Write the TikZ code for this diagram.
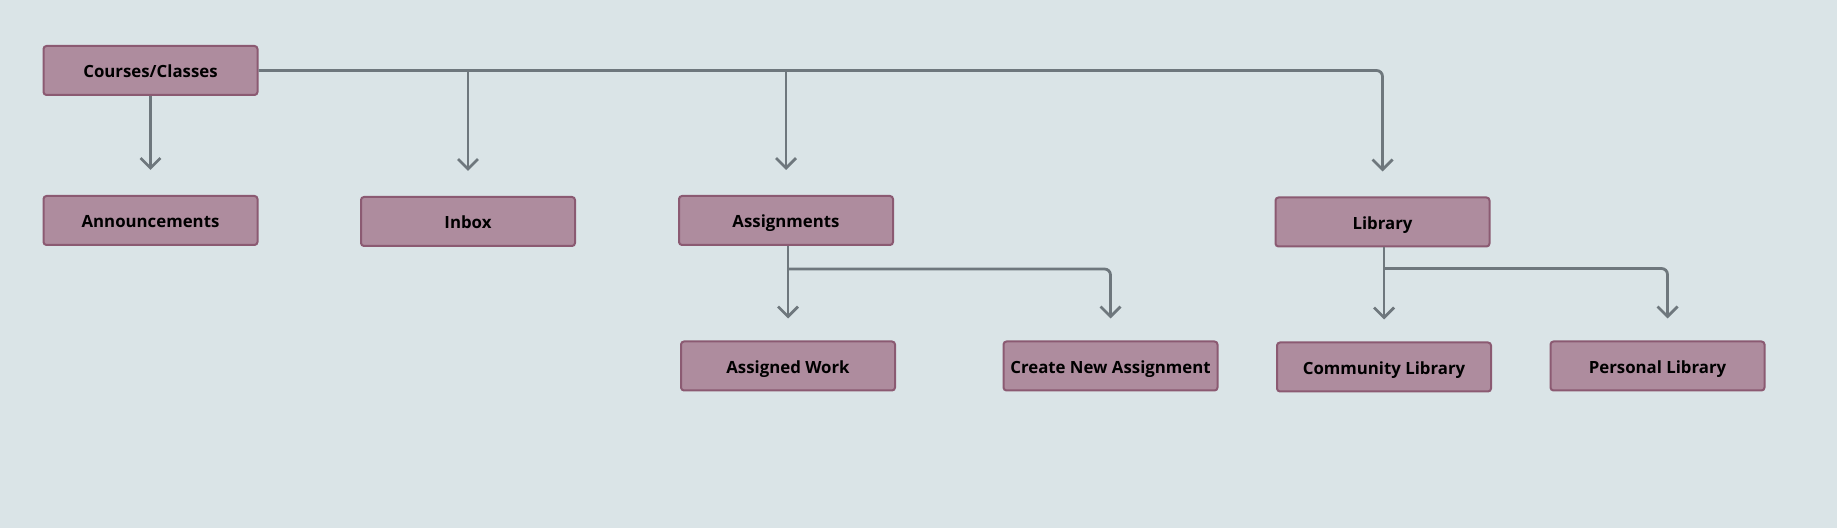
\documentclass[tikz,border=0pt]{standalone}
\usepackage{fontspec}
\setmainfont{Open Sans}
\usetikzlibrary{arrows.meta}

\definecolor{bgcol}{HTML}{DAE4E7}
\definecolor{boxfill}{HTML}{AE8C9E}
\definecolor{boxline}{HTML}{8B5A72}
\definecolor{linkcol}{HTML}{6E777D}

\begin{document}
\begin{tikzpicture}[x=0.5pt,y=-0.5pt,
  menu/.style={draw=boxline, fill=boxfill, line width=1pt, rounded corners=1.5pt,
    minimum width=107pt, minimum height=24.5pt, inner sep=0pt,
    text height=7.4pt, text depth=0pt,
    font=\fontsize{8.4}{10}\selectfont\bfseries},
  link/.style={draw=linkcol, line width=1.4pt, rounded corners=3pt,
    -{Straight Barb[length=5pt,width=10pt]}, shorten >=12.5pt},
  sublink/.style={link, shorten >=11pt}]
% background
\fill[bgcol] (0,0) rectangle (1837,528);
\useasboundingbox (0,0) rectangle (1837,528);

% top level
\node[menu] (courses) at (150.5,70.5) {Courses/Classes};

% second level
\node[menu] (announce) at (150.5,220.5) {Announcements};
\node[menu] (inbox) at (468,221.5) {Inbox};
\node[menu] (assign) at (786,220.5) {Assignments};
\node[menu] (library) at (1382.5,222) {Library};

% third level
\node[menu] (work) at (788,366) {Assigned Work};
\node[menu] (create) at (1110.5,366) {Create New Assignment};
\node[menu] (community) at (1384,367) {Community Library};
\node[menu] (personal) at (1657.5,366) {Personal Library};

% links from courses
\draw[link] (courses.south) -- (announce.north);
\draw[link] (courses.east) -| (library.north);
\draw[link] (inbox.north |- courses.east) -- (inbox.north);
\draw[link] (assign.north |- courses.east) -- (assign.north);

% links from assignments
\draw[sublink] (work.north |- assign.south) -- (work.north);
\draw[sublink] (work.north |- assign.south) ++(0,23) -| (create.north);

% links from library
\draw[sublink] (community.north |- library.south) -- (community.north);
\draw[sublink] (community.north |- library.south) ++(0,21) -| ([xshift=5pt]personal.north);
\end{tikzpicture}
\end{document}
